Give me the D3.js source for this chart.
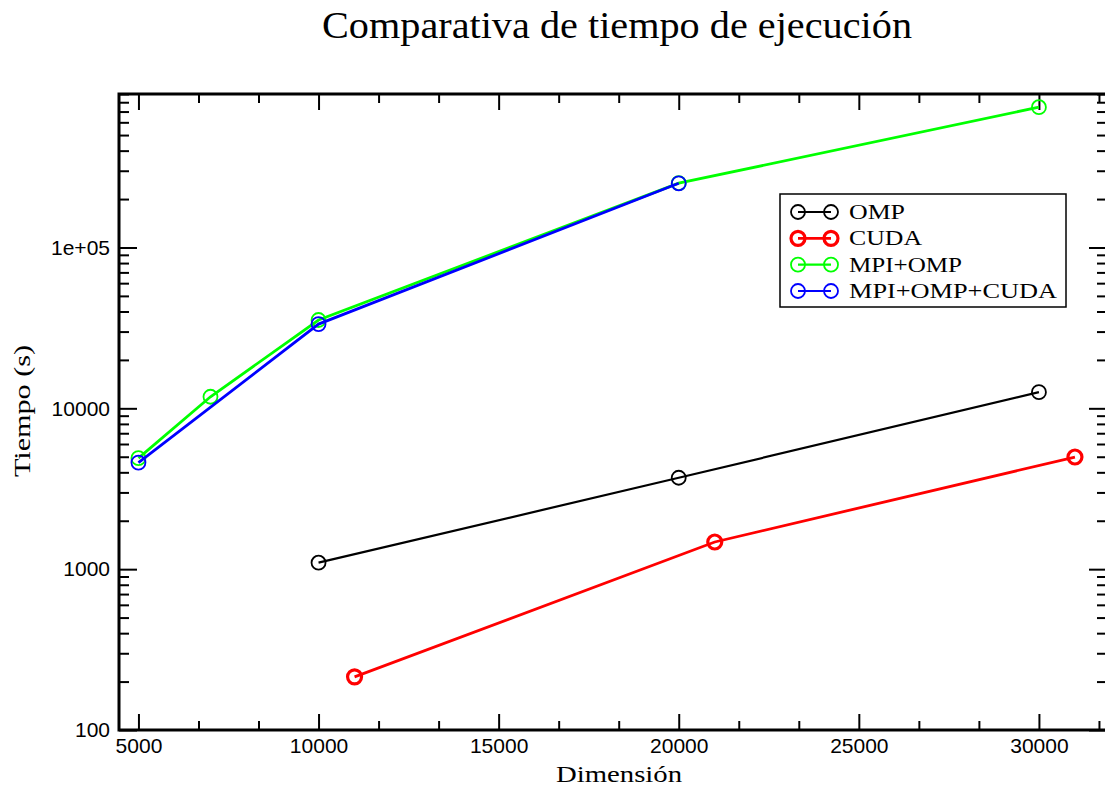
<!DOCTYPE html>
<html>
<head>
<meta charset="utf-8">
<script src="https://cdn.jsdelivr.net/npm/d3@7"></script>
<style>
body { margin: 0; background: #fff; }
svg text { font-family: "Liberation Serif", "DejaVu Serif", serif; fill: #000; }
svg .tick text { font-family: "Liberation Sans", "DejaVu Sans", sans-serif; }
</style>
</head>
<body>
<svg id="chart"></svg>
<script>
// series names and colours
var seriesNames = ["OMP", "CUDA", "MPI+OMP", "MPI+OMP+CUDA"];
var seriesColors = ["#000000", "#ff0000", "#00ff00", "#0000ff"];

// values: [dimension, seconds]
var ompData = [[10000, 1097], [20000, 3700], [30000, 12600]];
var cudaData = [[11000, 214], [21000, 1475], [31000, 4980]];
var mpiOmpData = [[5000, 4900], [7000, 11800], [10000, 35400], [20000, 251000], [30000, 745000]];
var mpiOmpCudaData = [[5000, 4600], [10000, 33400], [20000, 250600]];

var xMajorTicks = [5000, 10000, 15000, 20000, 25000, 30000];
var yMajorTicks = [100, 1000, 10000, 100000];
var yTickLabels = ["100", "1000", "10000", "1e+05"];

var initGraph = function(target)
{
    var screen = {width:1105, height:791};
    var plot = {left:119, right:1107, top:94, bottom:730};

    var svg = d3.select(target)
        .attr("width", screen.width)
        .attr("height", screen.height);

    var xScale = d3.scaleLinear()
        .domain([4460, 31890])
        .range([plot.left, plot.right]);
    var yScale = d3.scaleLog()
        .domain([100, 9e5])
        .range([plot.bottom, plot.top]);

    createAxes(svg, plot, xScale, yScale);
    drawLines(svg, xScale, yScale);
    createLabels(svg, screen);
    createLegend(svg);
}

var createAxes = function(svg, plot, xScale, yScale)
{
    // minor ticks: thirds on x, 2..9 per decade on y
    var xMinor = [];
    for (var v = 5000 / 3; v < 31890; v += 5000 / 3)
    {
        if (v > 4460 && Math.abs(v / 5000 - Math.round(v / 5000)) > 0.01) { xMinor.push(v); }
    }
    var yMinor = [];
    for (var d = 100; d < 1e6; d *= 10)
    {
        for (var k = 2; k <= 9; k++) { if (d * k <= 9e5) { yMinor.push(d * k); } }
    }

    var axes = svg.append("g").classed("axes", true);

    var addAxis = function(axis, transform)
    {
        var g = axes.append("g").attr("transform", transform).call(axis);
        g.select(".domain").remove();
        g.selectAll(".tick line").attr("stroke", "#000").attr("stroke-width", 2);
        return g;
    }

    // bottom
    var bottom = addAxis(d3.axisBottom(xScale).tickValues(xMajorTicks).tickSize(-16).tickPadding(8)
        .tickFormat(d3.format("d")), "translate(0," + plot.bottom + ")");
    bottom.selectAll("text").style("font-size", "21px");
    addAxis(d3.axisBottom(xScale).tickValues(xMinor).tickSize(-9).tickFormat(""),
        "translate(0," + plot.bottom + ")");

    // top
    addAxis(d3.axisTop(xScale).tickValues(xMajorTicks).tickSize(-16).tickFormat(""),
        "translate(0," + plot.top + ")");
    addAxis(d3.axisTop(xScale).tickValues(xMinor).tickSize(-9).tickFormat(""),
        "translate(0," + plot.top + ")");

    // left
    var left = addAxis(d3.axisLeft(yScale).tickValues(yMajorTicks).tickSize(-18).tickPadding(9)
        .tickFormat(function(d, i){ return yTickLabels[i]; }), "translate(" + plot.left + ",0)");
    left.selectAll("text").style("font-size", "21px");
    addAxis(d3.axisLeft(yScale).tickValues(yMinor).tickSize(-10).tickFormat(""),
        "translate(" + plot.left + ",0)");

    // right
    addAxis(d3.axisRight(yScale).tickValues(yMajorTicks).tickSize(-18).tickFormat(""),
        "translate(" + plot.right + ",0)");
    addAxis(d3.axisRight(yScale).tickValues(yMinor).tickSize(-10).tickFormat(""),
        "translate(" + plot.right + ",0)");

    // frame
    axes.append("rect")
        .attr("x", plot.left)
        .attr("y", plot.top)
        .attr("width", plot.right - plot.left)
        .attr("height", plot.bottom - plot.top)
        .attr("fill", "none")
        .attr("stroke", "#000")
        .attr("stroke-width", 3);
}

var drawLines = function(svg, xScale, yScale)
{
    var allData = [ompData, cudaData, mpiOmpData, mpiOmpCudaData];
    var lineWidths = [2.2, 2.8, 2.8, 2.8];
    var markerWidths = [1.8, 3.2, 1.8, 1.8];

    var line = d3.line()
        .x(function(p){ return xScale(p[0]); })
        .y(function(p){ return yScale(p[1]); });

    allData.forEach(function(data, i)
    {
        var g = svg.append("g").classed("series", true);
        g.append("path")
            .datum(data)
            .attr("d", line)
            .attr("fill", "none")
            .attr("stroke", seriesColors[i])
            .attr("stroke-width", lineWidths[i]);
        g.selectAll("circle")
            .data(data)
            .enter()
            .append("circle")
            .attr("cx", function(p){ return xScale(p[0]); })
            .attr("cy", function(p){ return yScale(p[1]); })
            .attr("r", 7)
            .attr("fill", "none")
            .attr("stroke", seriesColors[i])
            .attr("stroke-width", markerWidths[i]);
    });
}

var createLabels = function(svg, screen)
{
    var labels = svg.append("g").classed("labels", true);

    labels.append("text")
        .text("Comparativa de tiempo de ejecución")
        .attr("x", 617)
        .attr("y", 38)
        .attr("text-anchor", "middle")
        .attr("textLength", 590)
        .attr("lengthAdjust", "spacingAndGlyphs")
        .style("font-size", "38px");

    labels.append("text")
        .text("Dimensión")
        .attr("x", 619)
        .attr("y", 782)
        .attr("text-anchor", "middle")
        .attr("textLength", 126)
        .attr("lengthAdjust", "spacingAndGlyphs")
        .style("font-size", "24px");

    labels.append("g")
        .attr("transform", "translate(30,411)")
        .append("text")
        .text("Tiempo (s)")
        .attr("text-anchor", "middle")
        .attr("transform", "rotate(-90)")
        .attr("textLength", 132)
        .attr("lengthAdjust", "spacingAndGlyphs")
        .style("font-size", "23px");
}

var createLegend = function(svg)
{
    var textLengths = [56, 73, 113, 208];
    var legend = svg.append("g").classed("legend", true);

    legend.append("rect")
        .attr("x", 780)
        .attr("y", 194)
        .attr("width", 286)
        .attr("height", 113)
        .attr("fill", "#fff")
        .attr("stroke", "#000")
        .attr("stroke-width", 1.5);

    var rowScale = d3.scalePoint()
        .domain(seriesNames)
        .range([212, 291]);

    seriesNames.forEach(function(name, i)
    {
        var y = rowScale(name);
        var w = i == 1 ? 3.2 : 1.8;
        legend.append("line")
            .attr("x1", 798).attr("x2", 831)
            .attr("y1", y).attr("y2", y)
            .attr("stroke", seriesColors[i])
            .attr("stroke-width", i == 1 ? 2.8 : 2.2);
        [798, 831].forEach(function(cx)
        {
            legend.append("circle")
                .attr("cx", cx).attr("cy", y).attr("r", 7)
                .attr("fill", "none")
                .attr("stroke", seriesColors[i])
                .attr("stroke-width", w);
        });
        legend.append("text")
            .text(name)
            .attr("x", 849)
            .attr("y", y + 7)
            .attr("textLength", textLengths[i])
            .attr("lengthAdjust", "spacingAndGlyphs")
            .style("font-size", "20px");
    });
}

initGraph("#chart");
</script>
</body>
</html>
